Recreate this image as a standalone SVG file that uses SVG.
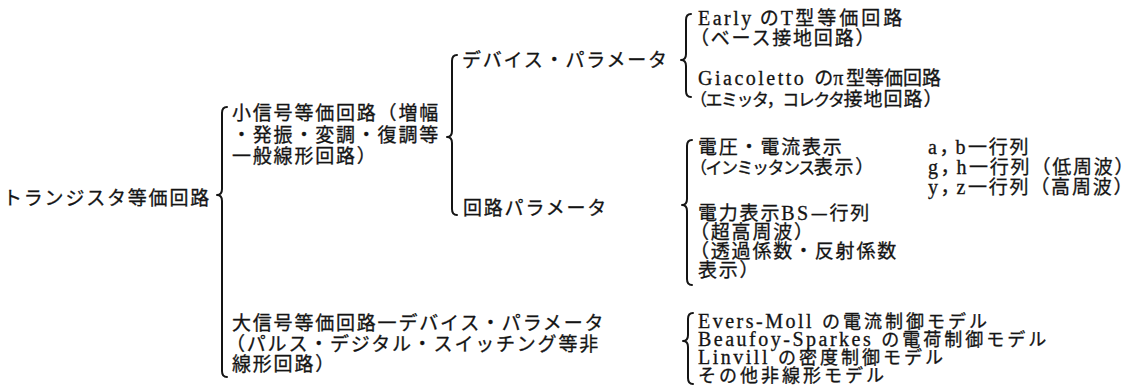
<svg xmlns="http://www.w3.org/2000/svg" width="1148" height="386" viewBox="0 0 1148 386">
<style>
text{font-family:"Noto Sans CJK JP","Noto Sans CJK SC",sans-serif;font-size:19px;letter-spacing:1.8px;fill:#141414;stroke:#141414;stroke-width:0.3px}
.l{font-family:"Liberation Serif",serif;font-size:20px;letter-spacing:2.5px}
.k{font-size:17px;letter-spacing:-1.5px}
.m{font-size:18px;letter-spacing:3px}
.br{fill:none;stroke:#141414;stroke-width:2;stroke-linecap:round;stroke-linejoin:round}
</style>
<rect width="1148" height="386" fill="#ffffff"/>
<g id="connectors">
<path class="br" d="M227,107 Q222,107 222,113 L222,189 Q222,195 217,195 Q222,195 222,201 L222,371 Q222,377 227,377"/>
<path class="br" d="M457,55 Q452,55 452,61 L452,131 Q452,137 447,137 Q452,137 452,143 L452,209 Q452,215 457,215"/>
<path class="br" d="M691,14 Q686,14 686,20 L686,54 Q686,60 681,60 Q686,60 686,66 L686,91 Q686,97 691,97"/>
<path class="br" d="M692,140 Q687,140 687,146 L687,199 Q687,205 682,205 Q687,205 687,211 L687,279 Q687,285 692,285"/>
<path class="br" d="M693,313 Q688,313 688,319 L688,335 Q688,341 683,341 Q688,341 688,347 L688,378 Q688,384 693,384"/>
</g>
<g id="root"><text x="3" y="205" letter-spacing="1.6">トランジスタ等価回路</text></g>
<g id="small-signal">
<text x="232" y="120">小信号等価回路（増幅</text>
<text x="232" y="142">・発振・変調・復調等</text>
<text x="232" y="163">一般線形回路）</text>
</g>
<g id="device-param"><text x="462" y="67" letter-spacing="2.2">デバイス・パラメータ</text></g>
<g id="circuit-param"><text x="463" y="215" letter-spacing="0.6">回路パラメータ</text></g>
<g id="early">
<text x="698" y="25"><tspan class="l" letter-spacing="3">Early</tspan><tspan dx="6">の</tspan><tspan class="l" letter-spacing="3">T</tspan><tspan letter-spacing="3">型等価回路</tspan></text>
<text x="690" y="45">（ベース接地回路）</text>
</g>
<g id="giacoletto">
<text x="698" y="85"><tspan class="l" letter-spacing="1">Giacoletto</tspan><tspan dx="8" letter-spacing="0">の</tspan><tspan class="l" letter-spacing="1">π</tspan><tspan letter-spacing="0">型等価回路</tspan></text>
<text x="690" y="106"><tspan class="k">（エミッタ，コレクタ</tspan><tspan letter-spacing="1">接地回路）</tspan></text>
</g>
<g id="immittance">
<text x="698" y="154">電圧・電流表示</text>
<text x="690" y="174"><tspan class="k" letter-spacing="-0.5">（インミッタンス</tspan>表示）</text>
</g>
<g id="matrices">
<text x="928" y="154"><tspan class="l">a</tspan><tspan letter-spacing="-3">，</tspan><tspan class="l">b</tspan>一行列</text>
<text x="928" y="174"><tspan class="l">g</tspan><tspan letter-spacing="-3">，</tspan><tspan class="l">h</tspan>一行列（低周波）</text>
<text x="928" y="194"><tspan class="l">y</tspan><tspan letter-spacing="-3">，</tspan><tspan class="l">z</tspan>一行列（高周波）</text>
</g>
<g id="power">
<text x="698" y="220">電力表示<tspan class="l" letter-spacing="1">BS</tspan>—行列</text>
<text x="690" y="239">（超高周波）</text>
<text x="690" y="258">（透過係数・反射係数</text>
<text x="698" y="277">表示）</text>
</g>
<g id="large-signal">
<text x="232" y="330" letter-spacing="2.2">大信号等価回路一デバイス・パラメータ</text>
<text x="226" y="351" letter-spacing="2.2">（パルス・デジタル・スイッチング等非</text>
<text x="232" y="371" letter-spacing="2.2">線形回路）</text>
</g>
<g id="models">
<text x="698" y="328"><tspan class="l">Evers-Moll</tspan><tspan class="m" dx="8">の電流制御モデル</tspan></text>
<text x="698" y="346"><tspan class="l">Beaufoy-Sparkes</tspan><tspan class="m" dx="8">の電荷制御モデル</tspan></text>
<text x="698" y="364"><tspan class="l">Linvill</tspan><tspan class="m" dx="8">の密度制御モデル</tspan></text>
<text x="698" y="382" class="m">その他非線形モデル</text>
</g>
</svg>
